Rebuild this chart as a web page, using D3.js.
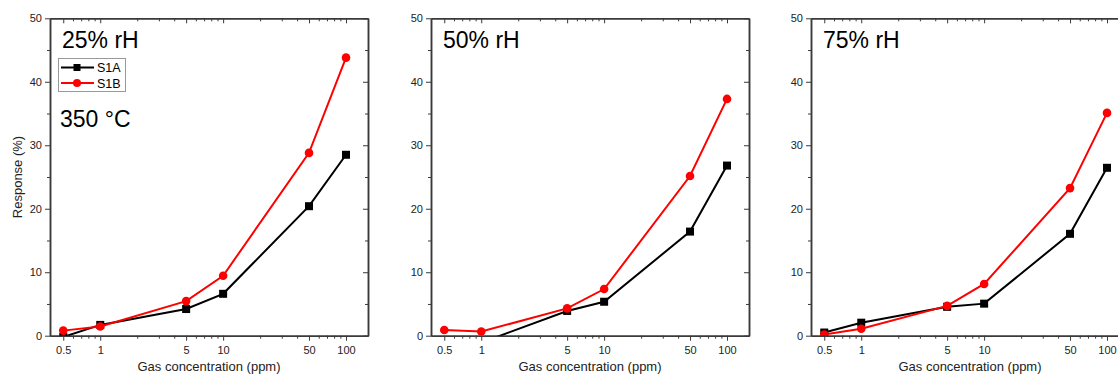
<!DOCTYPE html>
<html>
<head>
<meta charset="utf-8">
<script src="https://cdn.jsdelivr.net/npm/d3@7"></script>
<style>
  html, body { margin: 0; padding: 0; background: #fff; }
  svg { display: block; font-family: "Liberation Sans", Arial, sans-serif; }
</style>
</head>
<body>
<svg id="chart" width="1118" height="374"></svg>
<script>
// Gas concentration (ppm) on the shared log x axis
const concentrations = [0.5, 1, 5, 10, 50, 100];
const xTickLabels = ["0.5", "1", "5", "10", "50", "100"];
const xMinorTicks = [0.6, 0.7, 0.8, 0.9, 2, 3, 4, 6, 7, 8, 9, 20, 30, 40, 60, 70, 80, 90];
const yMajorTicks = [0, 10, 20, 30, 40, 50];
const yMinorTicks = [5, 15, 25, 35, 45];

const humidityLabels = ["25% rH", "50% rH", "75% rH"];
const seriesNames = ["S1A", "S1B"];

// Response (%) per humidity panel
const s1aValues = [
  [-0.2, 1.7, 4.2, 6.6, 20.4, 28.5],
  [-1.5, -1.1, 3.9, 5.35, 16.4, 26.8],
  [0.5, 2.05, 4.55, 5.05, 16.05, 26.45]
];
const s1bValues = [
  [0.8, 1.45, 5.45, 9.45, 28.8, 43.8],
  [0.9, 0.65, 4.3, 7.35, 25.15, 37.3],
  [0.2, 1.1, 4.7, 8.15, 23.25, 35.1]
];

const panelLefts = [50, 431, 811];
const panelW = 318;
const plotTop = 18.3, plotBottom = 335.7;
const axisColor = "#3a3a3a";
const labelColor = "#222";
const red = "#ff0000";

const svg = d3.select("#chart");

const y = d3.scaleLinear().domain([0, 50]).range([plotBottom, plotTop]);

panelLefts.forEach((left, p) => {
  const x = d3.scaleLog().domain([0.39, 151]).range([left, left + panelW]);
  const g = svg.append("g");

  const clipId = "clip" + p;
  svg.append("clipPath").attr("id", clipId)
    .append("rect")
    .attr("x", left).attr("y", plotTop)
    .attr("width", panelW).attr("height", plotBottom - plotTop);

  // bottom axis (outward ticks)
  const bAxis = g.append("g").attr("transform", `translate(0,${plotBottom})`)
    .call(d3.axisBottom(x).tickValues(concentrations)
      .tickFormat((d, i) => xTickLabels[i]).tickSize(5).tickSizeOuter(0));
  g.append("g").attr("transform", `translate(0,${plotBottom})`)
    .call(d3.axisBottom(x).tickValues(xMinorTicks).tickFormat("").tickSize(3).tickSizeOuter(0));

  // top axis (inward ticks)
  g.append("g").attr("transform", `translate(0,${plotTop})`)
    .call(d3.axisTop(x).tickValues(concentrations).tickFormat("").tickSize(-5).tickSizeOuter(0));
  g.append("g").attr("transform", `translate(0,${plotTop})`)
    .call(d3.axisTop(x).tickValues(xMinorTicks).tickFormat("").tickSize(-3).tickSizeOuter(0));

  // left axis (outward)
  g.append("g").attr("transform", `translate(${left},0)`)
    .call(d3.axisLeft(y).tickValues(yMajorTicks).tickFormat(d3.format("d")).tickSize(5).tickSizeOuter(0));
  g.append("g").attr("transform", `translate(${left},0)`)
    .call(d3.axisLeft(y).tickValues(yMinorTicks).tickFormat("").tickSize(3).tickSizeOuter(0));

  // right axis (inward)
  g.append("g").attr("transform", `translate(${left + panelW},0)`)
    .call(d3.axisRight(y).tickValues(yMajorTicks).tickFormat("").tickSize(-5).tickSizeOuter(0));
  g.append("g").attr("transform", `translate(${left + panelW},0)`)
    .call(d3.axisRight(y).tickValues(yMinorTicks).tickFormat("").tickSize(-3).tickSizeOuter(0));

  g.selectAll(".domain").attr("stroke", axisColor).attr("stroke-width", 1.5);
  g.selectAll(".tick line").attr("stroke", axisColor).attr("stroke-width", 1);
  g.selectAll(".tick text").attr("fill", labelColor).attr("font-size", 11)
    .attr("font-family", "Liberation Sans, Arial, sans-serif");
  bAxis.selectAll(".tick text").attr("dy", "0.95em");

  // x axis title
  g.append("text")
    .attr("x", left + panelW / 2).attr("y", 371)
    .attr("text-anchor", "middle")
    .attr("fill", labelColor).attr("font-size", 13)
    .text("Gas concentration (ppm)");

  // humidity label
  g.append("text")
    .attr("x", left + 12).attr("y", 47.5)
    .attr("fill", "#000").attr("font-size", 23)
    .text(humidityLabels[p]);

  // data
  const plot = g.append("g").attr("clip-path", `url(#${clipId})`);
  const line = d3.line().x((d, i) => x(concentrations[i])).y(d => y(d));

  const a = s1aValues[p], b = s1bValues[p];

  plot.append("path").datum(a).attr("d", line)
    .attr("fill", "none").attr("stroke", "#000").attr("stroke-width", 2);
  plot.selectAll("rect.s1a").data(a).join("rect").attr("class", "s1a")
    .attr("x", (d, i) => x(concentrations[i]) - 4)
    .attr("y", d => y(d) - 4)
    .attr("width", 8).attr("height", 8).attr("fill", "#000");

  plot.append("path").datum(b).attr("d", line)
    .attr("fill", "none").attr("stroke", red).attr("stroke-width", 2);
  plot.selectAll("circle.s1b").data(b).join("circle").attr("class", "s1b")
    .attr("cx", (d, i) => x(concentrations[i]))
    .attr("cy", d => y(d))
    .attr("r", 4.3).attr("fill", red);
});

// y axis title (first panel only)
svg.append("text")
  .attr("transform", `translate(22,${(plotTop + plotBottom) / 2}) rotate(-90)`)
  .attr("text-anchor", "middle")
  .attr("fill", labelColor).attr("font-size", 13)
  .text("Response (%)");

// temperature label
svg.append("text")
  .attr("x", 60).attr("y", 127)
  .attr("fill", "#000").attr("font-size", 23)
  .text("350 °C");

// legend in first panel
const leg = svg.append("g");
leg.append("rect")
  .attr("x", 58.5).attr("y", 58.5).attr("width", 67).attr("height", 33)
  .attr("fill", "#fff").attr("stroke", "#999").attr("stroke-width", 1);
const legColors = ["#000", red];
seriesNames.forEach((name, i) => {
  const ly = 67.5 + i * 15.5;
  leg.append("line")
    .attr("x1", 61).attr("x2", 94).attr("y1", ly).attr("y2", ly)
    .attr("stroke", legColors[i]).attr("stroke-width", 2);
  if (i === 0) {
    leg.append("rect").attr("x", 73.5).attr("y", ly - 3.5)
      .attr("width", 7).attr("height", 7).attr("fill", "#000");
  } else {
    leg.append("circle").attr("cx", 77).attr("cy", ly).attr("r", 4).attr("fill", red);
  }
  leg.append("text")
    .attr("x", 97).attr("y", ly + 4.5)
    .attr("fill", "#000").attr("font-size", 12.5)
    .text(name);
});
</script>
</body>
</html>
